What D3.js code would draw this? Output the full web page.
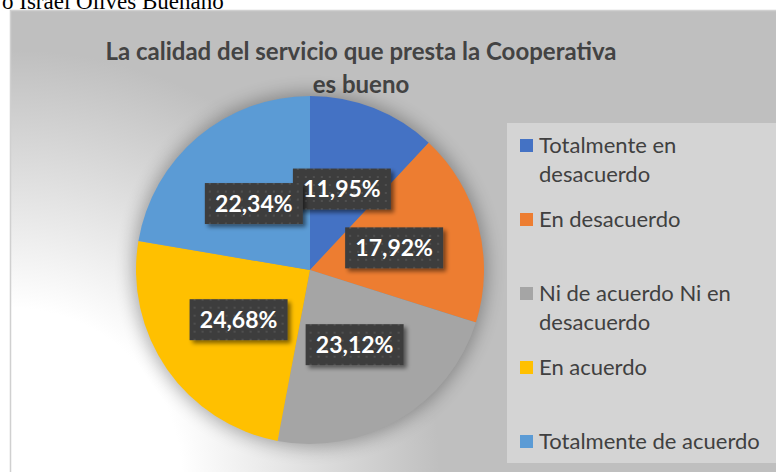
<!DOCTYPE html>
<html>
<head>
<meta charset="utf-8">
<script src="https://cdn.jsdelivr.net/npm/d3@7"></script>
<style>
  body { margin: 0; background: #fff; }
  svg { display: block; }
</style>
</head>
<body>
<div id="chart"></div>
<script>
// data
var categories = ["Totalmente en desacuerdo", "En desacuerdo", "Ni de acuerdo Ni en desacuerdo", "En acuerdo", "Totalmente de acuerdo"];
var values = [11.95, 17.92, 23.12, 24.68, 22.34];
var colors = ["#4472C4", "#ED7D31", "#A5A5A5", "#FFC000", "#5B9BD5"];
var titleLines = ["La calidad del servicio que presta la Cooperativa", "es bueno"];
var caption = "o Israel Olives Buenaño";

var W = 776, H = 472;
var cx = 310, cy = 270, radius = 174;

var svg = d3.select("#chart").append("svg")
  .attr("width", W).attr("height", H);

var defs = svg.append("defs");

// background gradient: white in bottom-left corner, grey elsewhere
var grad = defs.append("radialGradient")
  .attr("id", "bg")
  .attr("gradientUnits", "userSpaceOnUse")
  .attr("cx", 10).attr("cy", 480).attr("r", 430);
grad.append("stop").attr("offset", 0).attr("stop-color", "#ffffff");
grad.append("stop").attr("offset", 0.4).attr("stop-color", "#ffffff");
grad.append("stop").attr("offset", 1).attr("stop-color", "#bfbfbf");

// soft shadow around pie
var glow = defs.append("filter").attr("id", "glow")
  .attr("x", "-20%").attr("y", "-20%").attr("width", "140%").attr("height", "140%");
glow.append("feGaussianBlur").attr("stdDeviation", 9);

// label box shadow
var shadow = defs.append("filter").attr("id", "shadow")
  .attr("x", "-20%").attr("y", "-30%").attr("width", "150%").attr("height", "170%");
shadow.append("feGaussianBlur").attr("in", "SourceAlpha").attr("stdDeviation", 2).attr("result", "b");
shadow.append("feOffset").attr("in", "b").attr("dx", 3).attr("dy", 3).attr("result", "o");
shadow.append("feComponentTransfer").attr("in", "o").attr("result", "s")
  .append("feFuncA").attr("type", "linear").attr("slope", 0.5);
var merge = shadow.append("feMerge");
merge.append("feMergeNode").attr("in", "s");
merge.append("feMergeNode").attr("in", "SourceGraphic");

// dotted pattern of the data labels
var pat = defs.append("pattern").attr("id", "dots")
  .attr("patternUnits", "userSpaceOnUse")
  .attr("width", 8).attr("height", 8);
pat.append("rect").attr("width", 8).attr("height", 8).attr("fill", "#3d3d3d");
pat.append("rect").attr("x", 3).attr("y", 3).attr("width", 2).attr("height", 2).attr("fill", "#505050");

// caption above the chart (cut off at the top, as in the source)
svg.append("text")
  .attr("x", 2).attr("y", 9)
  .style("font-family", "'Liberation Serif', 'Times New Roman', serif")
  .style("font-size", "23px")
  .attr("fill", "#000")
  .text(caption);

// chart area
svg.append("rect")
  .attr("x", 10.5).attr("y", 10.5)
  .attr("width", W).attr("height", H)
  .attr("fill", "url(#bg)")
  .attr("stroke", "#d0d0d0").attr("stroke-width", 1.5);

// title
svg.append("g").selectAll("text")
  .data(titleLines)
  .join("text")
  .attr("x", 361)
  .attr("y", (d, i) => 60 + i * 33)
  .attr("text-anchor", "middle")
  .style("font-family", "Lato, 'Open Sans', sans-serif")
  .style("font-weight", "bold")
  .style("font-size", "24px")
  .attr("fill", "#434343")
  .text(d => d);

// pie
var pie = d3.pie().sort(null).value(d => d);
var arcs = pie(values);
var arc = d3.arc().innerRadius(0).outerRadius(radius);

var pieG = svg.append("g").attr("transform", `translate(${cx},${cy})`);

pieG.append("circle")
  .attr("r", radius + 3)
  .attr("fill", "#000")
  .attr("opacity", 0.3)
  .attr("filter", "url(#glow)");

pieG.selectAll("path.slice")
  .data(arcs)
  .join("path")
  .attr("class", "slice")
  .attr("d", arc)
  .attr("fill", (d, i) => colors[i]);

// data labels
var labelFmt = v => v.toFixed(2).replace(".", ",") + "%";
var labels = pieG.selectAll("g.label")
  .data(arcs)
  .join("g")
  .attr("class", "label")
  .attr("transform", d => `translate(${arc.centroid(d)})`);

labels.append("rect")
  .attr("x", -49).attr("y", -20.5)
  .attr("width", 98).attr("height", 41)
  .attr("fill", "url(#dots)")
  .attr("filter", "url(#shadow)");

labels.append("text")
  .attr("text-anchor", "middle")
  .attr("dy", "0.36em")
  .style("font-family", "Lato, 'Open Sans', sans-serif")
  .style("font-weight", "bold")
  .style("font-size", "23px")
  .attr("fill", "#ffffff")
  .text(d => labelFmt(d.data));

// legend
var legX = 507, legY = 123, legW = 270, legH = 340, slot = 74;
svg.append("rect")
  .attr("x", legX).attr("y", legY)
  .attr("width", legW).attr("height", legH)
  .attr("fill", "#d4d4d4");

var legend = svg.append("g").selectAll("g")
  .data(categories)
  .join("g")
  .attr("transform", (d, i) => `translate(${legX + 13},${legY + 16 + i * slot})`);

legend.append("rect")
  .attr("width", 13).attr("height", 13)
  .attr("fill", (d, i) => colors[i]);

legend.append("text")
  .attr("x", 19).attr("y", 14)
  .style("font-family", "Lato, 'Open Sans', sans-serif")
  .style("font-size", "22px")
  .attr("fill", "#404040")
  .each(function (d) {
    // wrap long names onto a second line
    var t = d3.select(this);
    var words = d.split(" ");
    var line = [];
    var tspan = t.append("tspan").attr("x", 19);
    words.forEach(function (w) {
      line.push(w);
      tspan.text(line.join(" "));
      if (tspan.node().getComputedTextLength() > 234 && line.length > 1) {
        line.pop();
        tspan.text(line.join(" "));
        line = [w];
        tspan = t.append("tspan").attr("x", 19).attr("dy", 29).text(w);
      }
    });
  });
</script>
</body>
</html>
